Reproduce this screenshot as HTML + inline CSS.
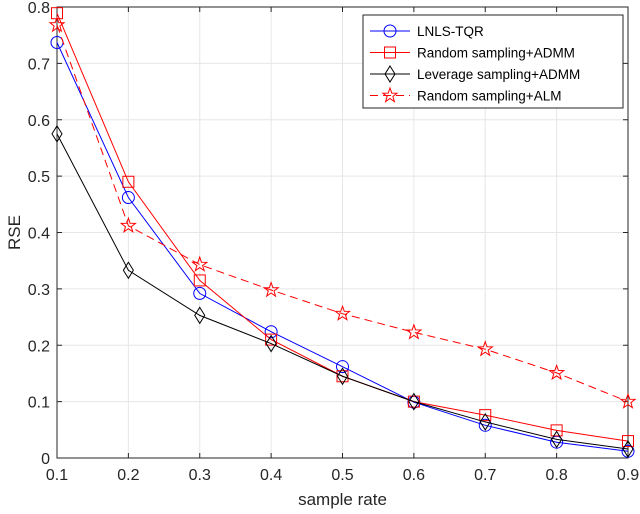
<!DOCTYPE html>
<html><head><style>
body{margin:0;background:#fff;}
svg{display:block;font-family:"Liberation Sans",Arial,sans-serif;}
</style></head><body>
<svg id="c" width="640" height="514"></svg>
<script>
const xs=[0.1,0.2,0.3,0.4,0.5,0.6,0.7,0.8,0.9];
const lnls=[0.737,0.462,0.292,0.224,0.162,0.099,0.058,0.028,0.012];
const randAdmm=[0.789,0.490,0.315,0.210,0.145,0.100,0.076,0.049,0.030];
const levAdmm=[0.575,0.333,0.253,0.203,0.145,0.100,0.064,0.033,0.016];
const randAlm=[0.768,0.412,0.343,0.298,0.256,0.223,0.193,0.151,0.100];
const xTicks=[0.1,0.2,0.3,0.4,0.5,0.6,0.7,0.8,0.9];
const yTicks=[0,0.1,0.2,0.3,0.4,0.5,0.6,0.7,0.8];
const L=57,R=628,T=7,B=458;
const X=v=>L+(v-0.1)/0.8*(R-L);
const Y=v=>B-v/0.8*(B-T);
const s=document.getElementById('c');
const NS='http://www.w3.org/2000/svg';
function el(t,a,p){const e=document.createElementNS(NS,t);for(const k in a)e.setAttribute(k,a[k]);(p||s).appendChild(e);return e;}
let e;
e=el('rect',{x:L,y:T,width:R-L,height:B-T,fill:'#fff'});


xTicks.forEach(v=>{
 e=el('line',{x1:X(v),x2:X(v),y1:T,y2:B,stroke:'#e6e6e6'});
 
 
 el('line',{x1:X(v),x2:X(v),y1:B,y2:B-5,stroke:'#262626'});
 el('line',{x1:X(v),x2:X(v),y1:T,y2:T+5,stroke:'#262626'});
 e=el('text',{x:X(v),y:B+22,'text-anchor':'middle','font-size':16,fill:'#262626'});e.textContent=v.toFixed(1);
 
 
});
yTicks.forEach(v=>{
 e=el('line',{x1:L,x2:R,y1:Y(v),y2:Y(v),stroke:'#e6e6e6'});
 
 
 el('line',{x1:L,x2:L+5,y1:Y(v),y2:Y(v),stroke:'#262626'});
 el('line',{x1:R,x2:R-5,y1:Y(v),y2:Y(v),stroke:'#262626'});
 e=el('text',{x:L-7,y:Y(v)+6,'text-anchor':'end','font-size':16,fill:'#262626'});e.textContent=v===0?'0':v.toFixed(1);
 
 
});
e=el('rect',{x:L,y:T,width:R-L,height:B-T,fill:'none',stroke:'#262626'});


e=el('text',{x:(L+R)/2,y:505,'text-anchor':'middle','font-size':17,fill:'#262626'});e.textContent='sample rate';


e=el('text',{x:0,y:0,'text-anchor':'middle','font-size':17,fill:'#262626',transform:`translate(20,${(T+B)/2}) rotate(-90)`});e.textContent='RSE';


function marker(type,x,y,c,g){
 if(type==='o')return el('circle',{cx:x,cy:y,r:6,fill:'none',stroke:c},g);
 if(type==='s')return el('rect',{x:x-5.5,y:y-5.5,width:11,height:11,fill:'none',stroke:c},g);
 if(type==='d')return el('polygon',{points:`${x},${y-8} ${x+5},${y} ${x},${y+8} ${x-5},${y}`,fill:'none',stroke:c},g);
 let p=[];for(let i=0;i<10;i++){const r=i%2?3:7.5,a=-Math.PI/2+i*Math.PI/5;p.push((x+r*Math.cos(a)).toFixed(1)+','+(y+r*Math.sin(a)).toFixed(1));}
 return el('polygon',{points:p.join(' '),fill:'none',stroke:c},g);
}
const series=[
 {name:'LNLS-TQR',d:lnls,c:'#0000ff',m:'o',dash:'',id:'series-lnls-tqr'},
 {name:'Random sampling+ADMM',d:randAdmm,c:'#ff0000',m:'s',dash:'',id:'series-random-admm'},
 {name:'Leverage sampling+ADMM',d:levAdmm,c:'#000000',m:'d',dash:'',id:'series-leverage-admm'},
 {name:'Random sampling+ALM',d:randAlm,c:'#ff0000',m:'*',dash:'8,5',id:'series-random-alm'}
];
series.forEach(sr=>{
 const g=el('g',{});
 
 
 el('polyline',{points:xs.map((x,i)=>X(x)+','+Y(sr.d[i])).join(' '),fill:'none',stroke:sr.c,'stroke-width':1,'stroke-dasharray':sr.dash},g);
 xs.forEach((x,i)=>{const m=marker(sr.m,X(x),Y(sr.d[i]),sr.c,g);
  
  });
});
const lg=el('g',{});


el('rect',{x:363,y:15,width:260,height:93,fill:'#fff',stroke:'#262626'},lg);
series.forEach((sr,i)=>{
 const y=31+i*21.5;
 const it=el('g',{},lg);
 
 
 el('line',{x1:370,x2:410,y1:y,y2:y,stroke:sr.c,'stroke-dasharray':sr.dash},it);
 marker(sr.m,390,y,sr.c,it);
 const t=el('text',{x:417,y:y+5,'font-size':13.5,fill:'#000'},it);t.textContent=sr.name;
});
</script>
</body></html>
